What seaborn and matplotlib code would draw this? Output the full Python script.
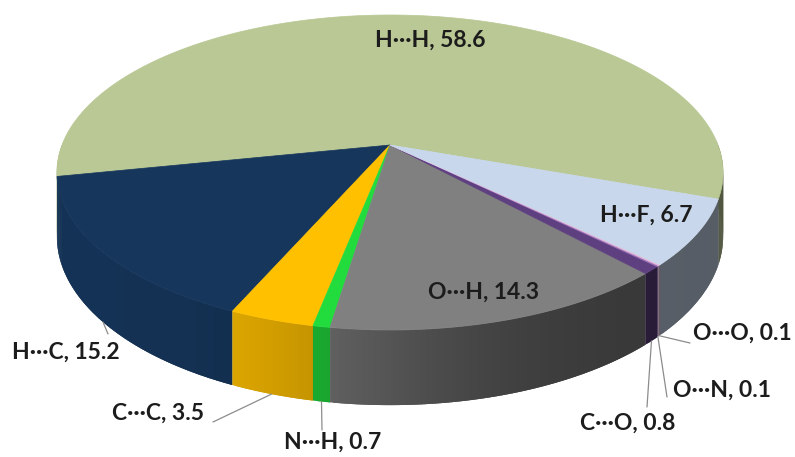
import numpy as np
import matplotlib
matplotlib.use("Agg")
import matplotlib.pyplot as plt
import seaborn as sns
from matplotlib.colors import to_rgb

# data, in the order the slices run round the pie
contacts = ["H···H", "H···C", "C···C", "N···H", "O···H", "C···O", "O···N", "O···O", "H···F"]
percent = [58.6, 15.2, 3.5, 0.7, 14.3, 0.8, 0.1, 0.1, 6.7]
slice_colors = ["#B9C894", "#16365C", "#FFC000", "#22DC3E", "#808080",
                "#5E3F80", "#9A6FB8", "#E6B9D8", "#C8D7EB"]

sns.set_theme(style="white")
plt.rcParams["font.family"] = ["Lato", "DejaVu Sans"]

# 3D pie geometry (pixels)
cx, cy = 390, 145
A, B, k = 328, 152.7, 0.1746
depth = 62
start = -19.5


def project(theta, r=1.0, drop=0.0):
    t = np.radians(theta)
    X, Z = r * np.cos(t), r * np.sin(t)
    w = 1 + k * Z
    return cx + A * X / w, cy - B * Z / w + drop / w


def shade(theta):
    # light from the front-left, walls darken towards the right
    return 0.43 + 0.5 / (1 + np.exp((theta - 268) / 12))


fig = plt.figure(figsize=(7.95, 4.57), dpi=100)
ax = fig.add_axes([0, 0, 1, 1])
ax.set_xlim(0, 795)
ax.set_ylim(457, 0)
ax.axis("off")

edges = start + np.concatenate([[0], np.cumsum(percent)]) * 3.6
palette = sns.color_palette(slice_colors)

# outer walls first (small overlapping strips give the gradient)
for (a0, a1), col in zip(zip(edges[:-1], edges[1:]), palette):
    angs = np.arange(a0, a1, 0.4)
    for t0 in angs:
        t1 = min(t0 + 0.9, a1)
        tm = (t0 + min(t0 + 0.4, a1)) / 2
        if np.sin(np.radians(tm)) > 0.02:
            continue
        f = shade(tm % 360)
        c = tuple(min(1, v * f) for v in to_rgb(col))
        p = [project(t0), project(t1), project(t1, drop=depth), project(t0, drop=depth)]
        ax.fill(*zip(*p), color=c, lw=0)

# top faces
for (a0, a1), col in zip(zip(edges[:-1], edges[1:]), palette):
    angs = np.linspace(a0, a1, max(3, int((a1 - a0) * 3)))
    pts = [project(0, r=0)] + [project(t) for t in angs]
    ax.fill(*zip(*pts), color=col, lw=0.5, ec=col)

txt = dict(fontsize=16.5, fontweight="bold", color="#1c1c1c")
lead = dict(color="#8c8c8c", lw=0.9)
mid = (edges[:-1] + edges[1:]) / 2
name = dict(zip(contacts, range(len(contacts))))


def label(i):
    return f"{contacts[i]}, {percent[i]}"


# labels on the top face
for c, (x, y) in {"H···H": (430, 40), "H···F": (646, 215), "O···H": (484, 292)}.items():
    ax.text(x, y, label(name[c]), ha="center", va="center", **txt)

# labels outside with leader lines from the wall
outside = {
    "H···C": ((108, 334), (66, 352), "center"),
    "C···C": ((213, 422), (204, 413), "right"),
    "N···H": ((322, 430), (333, 442), "center"),
    "C···O": ((647, 407), (628, 423), "center"),
    "O···N": ((667, 397), (673, 390), "left"),
    "O···O": ((690, 343), (693, 333), "left"),
}
for c, (end, pos, ha) in outside.items():
    i = name[c]
    sx, sy = project(mid[i], drop=depth)
    ax.plot([sx, end[0]], [sy, end[1]], **lead)
    ax.text(pos[0], pos[1], label(i), ha=ha, va="center", **txt)

fig.savefig("out.png", dpi=100)
